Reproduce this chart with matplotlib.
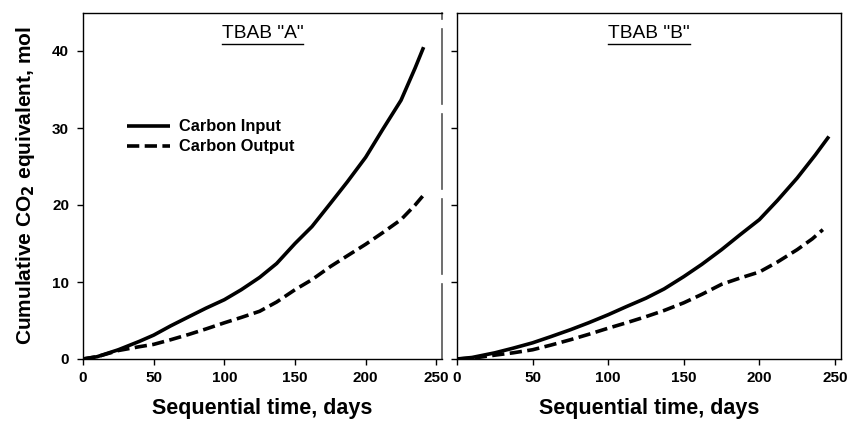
import numpy as np
import matplotlib
matplotlib.use('Agg')
import matplotlib.pyplot as plt

plt.rcParams['font.family'] = ['Liberation Sans', 'DejaVu Sans']

# ── data (days, cumulative CO2 equivalent mol) ──
days_a = [0, 10, 25, 40, 50, 62, 75, 87, 100, 112, 125, 137, 150, 162, 175, 187, 200, 212, 225, 235, 241]
input_a = [0, 0.3, 1.2, 2.3, 3.1, 4.3, 5.5, 6.6, 7.7, 9.0, 10.6, 12.4, 15.0, 17.2, 20.2, 23.0, 26.2, 29.8, 33.6, 37.8, 40.5]
days_a_out = [0, 10, 25, 40, 50, 62, 75, 87, 100, 112, 125, 137, 150, 162, 175, 187, 200, 212, 225, 235, 241]
output_a = [0, 0.3, 1.1, 1.6, 1.9, 2.5, 3.2, 3.9, 4.7, 5.4, 6.2, 7.4, 9.0, 10.3, 12.0, 13.4, 14.9, 16.4, 18.1, 20.0, 21.3]

days_b = [0, 10, 25, 37, 50, 62, 75, 87, 100, 112, 125, 137, 150, 162, 175, 187, 200, 212, 225, 237, 246]
input_b = [0, 0.2, 0.8, 1.4, 2.1, 2.9, 3.8, 4.7, 5.75, 6.8, 7.9, 9.1, 10.7, 12.3, 14.2, 16.1, 18.1, 20.6, 23.5, 26.5, 28.9]
days_b_out = [0, 10, 25, 37, 50, 62, 75, 87, 100, 112, 125, 137, 150, 162, 175, 187, 200, 212, 225, 235, 242]
output_b = [0, 0.1, 0.5, 0.8, 1.2, 1.8, 2.5, 3.2, 4.0, 4.7, 5.5, 6.3, 7.3, 8.4, 9.7, 10.5, 11.3, 12.6, 14.2, 15.6, 16.8]

panel_titles = ['TBAB "A"', 'TBAB "B"']
legend_labels = ['Carbon Input', 'Carbon Output']
x_ticks = [0, 50, 100, 150, 200, 250]
y_ticks = [0, 10, 20, 30, 40]

fig = plt.figure(figsize=(8.47, 4.28), dpi=100)
ax_a = fig.add_axes([83 / 847, 1 - 359 / 428, (442 - 83) / 847, (359 - 12.5) / 428])
ax_b = fig.add_axes([457 / 847, 1 - 359 / 428, (841 - 457) / 847, (359 - 12.5) / 428])

lw = 2.6
dash = (3.4, 1.5)
series = [
    (ax_a, days_a, input_a, days_a_out, output_a),
    (ax_b, days_b, input_b, days_b_out, output_b),
]

for ax, d_in, v_in, d_out, v_out in series:
    ax.plot(d_in, v_in, color='black', lw=lw, solid_capstyle='butt', label=legend_labels[0])
    ax.plot(d_out, v_out, color='black', lw=lw, dashes=dash, label=legend_labels[1])
    ax.set_xlim(0, 254)
    ax.set_ylim(0, 45)
    ax.set_xticks(x_ticks)
    ax.set_yticks(y_ticks)
    ax.tick_params(direction='out', length=4, width=1, labelsize=11)
    ax.tick_params(axis='x', pad=5)
    ax.tick_params(axis='y', pad=6)
    for lab in ax.get_xticklabels() + ax.get_yticklabels():
        lab.set_fontweight('bold')
    ax.set_xlabel('Sequential time, days', fontsize=15.5, fontweight='bold', labelpad=9)
    for s in ax.spines.values():
        s.set_linewidth(1.0)

ax_b.tick_params(axis='y', labelleft=False)

# broken-axis look: grey dashed right edge on panel A
ax_a.spines['right'].set_color('#555555')
ax_a.spines['right'].set_linestyle((0, (45, 6)))
ax_a.spines['right'].set_linewidth(1.2)

ax_a.set_ylabel('Cumulative CO$_\\mathbf{2}$ equivalent, mol', fontsize=15,
                fontweight='bold', labelpad=11)

ax_a.legend(loc='upper left', bbox_to_anchor=(0.1, 0.715), frameon=False,
            prop={'weight': 'bold', 'size': 11.8}, handlelength=2.6,
            handletextpad=0.55, labelspacing=0.3, borderpad=0)

# underlined panel titles
fig.canvas.draw()
renderer = fig.canvas.get_renderer()
for ax, title in zip([ax_a, ax_b], panel_titles):
    t = ax.text(0.5, 0.926, title, transform=ax.transAxes, ha='center',
                va='baseline', fontsize=13.8)
    bb = t.get_window_extent(renderer=renderer)
    inv = ax.transAxes.inverted()
    (x0, _), (x1, _) = inv.transform([(bb.x0, bb.y0), (bb.x1, bb.y0)])
    y_line = inv.transform((0, bb.y0 - 2))[1]
    ax.plot([x0, x1], [y_line, y_line], transform=ax.transAxes,
            color='black', lw=1.0, clip_on=False)

fig.savefig('out.png', dpi=100)
